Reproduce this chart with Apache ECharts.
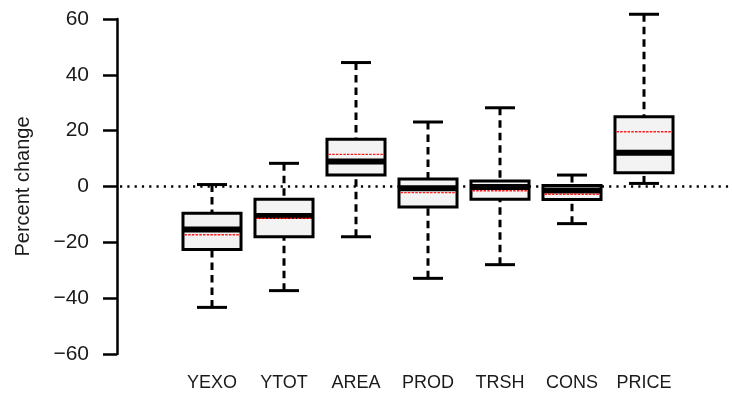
<!DOCTYPE html>
<html>
<head>
<meta charset="utf-8">
<script src="https://cdn.jsdelivr.net/npm/echarts@6/dist/echarts.min.js"></script>
<style>html,body{margin:0;padding:0;background:#fff;}#chart{width:732px;height:394px;}</style>
</head>
<body>
<div id="chart"></div>
<script>
// Data
var categories = ['YEXO', 'YTOT', 'AREA', 'PROD', 'TRSH', 'CONS', 'PRICE'];
var lowerWhisker = [-43.3, -37.3, -18.0, -32.9, -28.0, -13.3, 1.1];
var q1Values     = [-22.6, -18.0, 4.1, -7.3, -4.6, -4.7, 4.9];
var medians      = [-15.4, -10.6, 9.0, -0.6, -0.2, -1.4, 12.1];
var q3Values     = [-9.6, -4.6, 16.9, 2.7, 2.0, 0.4, 25.0];
var upperWhisker = [0.7, 8.3, 44.4, 23.1, 28.2, 4.1, 61.7];
var means        = [-17.3, -11.4, 11.5, -2.2, -1.5, -2.8, 19.6];
var yTicks = [-60, -40, -20, 0, 20, 40, 60];

var boxData = categories.map(function (c, i) {
  return [i, lowerWhisker[i], q1Values[i], medians[i], q3Values[i], upperWhisker[i], means[i]];
});

var chart = echarts.init(document.getElementById('chart'), null, { renderer: 'canvas' });

function renderBox(params, api) {
  var idx = api.value(0);
  var band = api.size([1, 0])[0];
  var boxW = band * 0.806;
  var capW = band * 0.417;
  var pLow = api.coord([idx, api.value(1)]);
  var pQ1 = api.coord([idx, api.value(2)]);
  var pMed = api.coord([idx, api.value(3)]);
  var pQ3 = api.coord([idx, api.value(4)]);
  var pUp = api.coord([idx, api.value(5)]);
  var pMean = api.coord([idx, api.value(6)]);
  var cx = pMed[0];
  var dashStyle = { stroke: '#000', lineWidth: 3, lineDash: [7.5, 5] };
  var solid = { stroke: '#000', lineWidth: 3 };
  return {
    type: 'group',
    children: [
      { type: 'line', shape: { x1: cx, y1: pUp[1], x2: cx, y2: pQ3[1] }, style: dashStyle },
      { type: 'line', shape: { x1: cx, y1: pLow[1], x2: cx, y2: pQ1[1] }, style: dashStyle },
      { type: 'line', shape: { x1: cx - capW / 2, y1: pUp[1], x2: cx + capW / 2, y2: pUp[1] }, style: solid },
      { type: 'line', shape: { x1: cx - capW / 2, y1: pLow[1], x2: cx + capW / 2, y2: pLow[1] }, style: solid },
      { type: 'rect', shape: { x: cx - boxW / 2, y: pQ3[1], width: boxW, height: pQ1[1] - pQ3[1] },
        style: { fill: '#f3f3f3', stroke: '#000', lineWidth: 3 } },
      { type: 'line', shape: { x1: cx - boxW / 2, y1: pMed[1], x2: cx + boxW / 2, y2: pMed[1] },
        style: { stroke: '#000', lineWidth: 6 } },
      { type: 'line', shape: { x1: cx - boxW / 2 + 1.5, y1: pMean[1], x2: cx + boxW / 2 - 1.5, y2: pMean[1] },
        style: { stroke: '#ff1a1a', lineWidth: 1.4, lineDash: [2.5, 1.2] } }
    ]
  };
}

var option = {
  backgroundColor: '#fff',
  animation: false,
  grid: [
    { left: 176, right: 52, top: 19, bottom: 40 },
    { left: 120, right: 0, top: 19, bottom: 40 }
  ],
  xAxis: [
    {
      type: 'category', gridIndex: 0, data: categories, boundaryGap: true,
      axisLine: { show: false }, axisTick: { show: false }, splitLine: { show: false },
      axisLabel: { color: '#1a1a1a', fontSize: 18, fontFamily: 'Liberation Sans, Arial, sans-serif', margin: 20, interval: 0 }
    },
    { type: 'value', gridIndex: 1, min: 0, max: 1, show: false }
  ],
  yAxis: [
    {
      type: 'value', gridIndex: 0, min: -60, max: 60, interval: 20, offset: 59,
      name: 'Percent change', nameLocation: 'middle', nameRotate: 90, nameGap: 84,
      nameTextStyle: { color: '#1a1a1a', fontSize: 20, fontFamily: 'Liberation Sans, Arial, sans-serif' },
      axisLine: { show: true, lineStyle: { color: '#000', width: 2.5 } },
      axisTick: { show: true, length: 14, lineStyle: { color: '#000', width: 2.5 } },
      splitLine: { show: false },
      axisLabel: {
        color: '#1a1a1a', fontSize: 21, fontFamily: 'Liberation Sans, Arial, sans-serif', margin: 28,
        formatter: function (v) { return yTicks.indexOf(v) >= 0 ? (v < 0 ? '\u2212' + Math.abs(v) : String(v)) : ''; }
      }
    },
    { type: 'value', gridIndex: 1, min: -60, max: 60, show: false }
  ],
  series: [
    {
      type: 'line', xAxisIndex: 1, yAxisIndex: 1, data: [[0, 0], [1, 0]], symbol: 'none', silent: true, z: 1,
      lineStyle: { color: '#000', width: 2.4, type: [2.2, 5.1] }
    },
    {
      type: 'custom', xAxisIndex: 0, yAxisIndex: 0, data: boxData, renderItem: renderBox, z: 5,
      encode: { x: 0, y: [1, 2, 3, 4, 5, 6] }
    }
  ]
};
chart.setOption(option);
</script>
</body>
</html>
